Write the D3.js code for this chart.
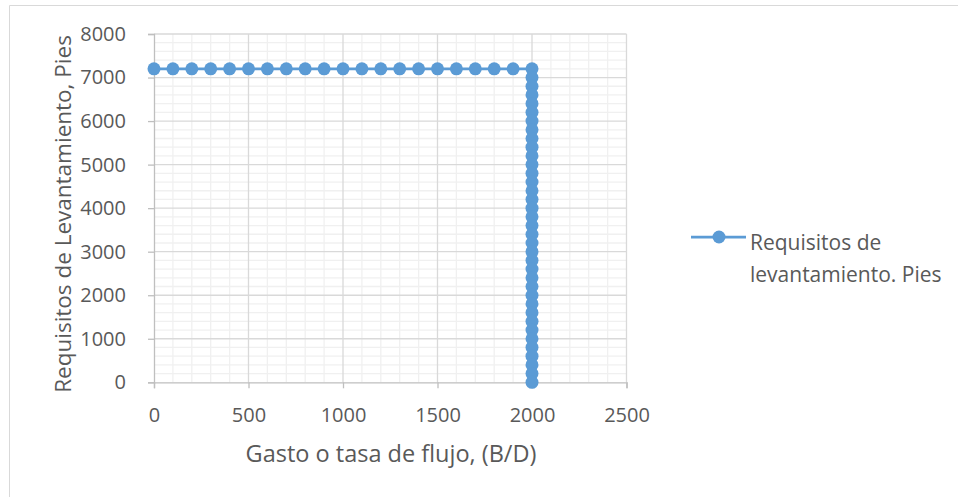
<!DOCTYPE html>
<html><head><meta charset="utf-8">
<script src="https://cdn.jsdelivr.net/npm/d3@7"></script>
<style>body{margin:0;background:#fff}svg{display:block}text{font-family:"Open Sans",sans-serif;fill:#595959}</style>
</head><body><svg id="c" width="958" height="497"></svg>
<script>
const flowRates = [0,100,200,300,400,500,600,700,800,900,1000,1100,1200,1300,1400,1500,1600,1700,1800,1900,2000,
  2000,2000,2000,2000,2000,2000,2000,2000,2000,2000,2000,2000,2000,2000,2000,2000,2000,2000,
  2000,2000,2000,2000,2000,2000,2000,2000,2000,2000,2000,2000,2000,2000,2000,2000,2000,2000];
const liftFeet = [7200,7200,7200,7200,7200,7200,7200,7200,7200,7200,7200,7200,7200,7200,7200,7200,7200,7200,7200,7200,7200,
  7000,6800,6600,6400,6200,6000,5800,5600,5400,5200,5000,4800,4600,4400,4200,4000,3800,3600,
  3400,3200,3000,2800,2600,2400,2200,2000,1800,1600,1400,1200,1000,800,600,400,200,0];
const xTicks = [0,500,1000,1500,2000,2500];
const yTicks = [0,1000,2000,3000,4000,5000,6000,7000,8000];
const seriesName = ["Requisitos de", "levantamiento. Pies"];
const xTitle = "Gasto o tasa de flujo, (B/D)";
const yTitle = "Requisitos de Levantamiento, Pies";

const svg = d3.select("#c");
const L=154, R=626.5, T=34, B=382.3;
const x = d3.scaleLinear().domain([0,2500]).range([L,R]);
const y = d3.scaleLinear().domain([0,8000]).range([B,T]);

svg.append("path").attr("d",`M9.5,497V5.5H958`).attr("fill","none").attr("stroke","#d9d9d9");

const g = svg.append("g");
g.selectAll(".mx").data(d3.range(0,2501,100).filter(v=>v%500)).join("line")
 .attr("x1",d=>x(d)).attr("x2",d=>x(d)).attr("y1",T).attr("y2",B).attr("stroke","#f0f0f0").attr("stroke-width",1.3);
g.selectAll(".my").data(d3.range(0,8001,200).filter(v=>v%1000)).join("line")
 .attr("y1",d=>y(d)).attr("y2",d=>y(d)).attr("x1",L).attr("x2",R).attr("stroke","#f0f0f0").attr("stroke-width",1.3);
g.selectAll(".Mx").data(xTicks.slice(1)).join("line")
 .attr("x1",d=>x(d)).attr("x2",d=>x(d)).attr("y1",T).attr("y2",B).attr("stroke","#d9d9d9").attr("stroke-width",1.3);
g.selectAll(".My").data(yTicks.slice(1)).join("line")
 .attr("y1",d=>y(d)).attr("y2",d=>y(d)).attr("x1",L).attr("x2",R).attr("stroke","#d9d9d9").attr("stroke-width",1.3);

const xa = svg.append("g").attr("transform",`translate(0,${B})`)
 .call(d3.axisBottom(x).tickValues(xTicks).tickSize(6).tickPadding(20).tickFormat(d3.format("d")));
const ya = svg.append("g").attr("transform",`translate(${L},0)`)
 .call(d3.axisLeft(y).tickValues(yTicks).tickSize(6).tickPadding(22).tickFormat(d3.format("d")));
[xa,ya].forEach(a=>{a.select(".domain").attr("stroke","#bfbfbf").attr("stroke-width",1.3);a.selectAll(".tick line").attr("stroke","#bfbfbf").attr("stroke-width",1.3);
 a.selectAll("text").style("font-size","20px").attr("fill","#595959").style("font-family","'Open Sans',sans-serif");});

const pts = flowRates.map((f,i)=>[f,liftFeet[i]]);
svg.append("path").datum(pts).attr("d",d3.line().x(d=>x(d[0])).y(d=>y(d[1])))
 .attr("fill","none").attr("stroke","#5b9bd5").attr("stroke-width",2.75);
svg.selectAll(".pt").data(pts).join("circle").attr("cx",d=>x(d[0])).attr("cy",d=>y(d[1])).attr("r",6.5).attr("fill","#5b9bd5");

svg.append("text").attr("x",391).attr("y",462).attr("text-anchor","middle").style("font-size","23.5px").text(xTitle);
svg.append("text").attr("transform",`translate(71,214) rotate(-90)`).attr("text-anchor","middle").style("font-size","22.5px").text(yTitle);

const lg = svg.append("g");
lg.append("line").attr("x1",691).attr("x2",746).attr("y1",237).attr("y2",237).attr("stroke","#5b9bd5").attr("stroke-width",2.75);
lg.append("circle").attr("cx",719).attr("cy",237).attr("r",6.5).attr("fill","#5b9bd5");
lg.selectAll("text").data(seriesName).join("text").attr("x",750).attr("y",(d,i)=>250+i*32).style("font-size","21px").text(d=>d);
</script></body></html>
